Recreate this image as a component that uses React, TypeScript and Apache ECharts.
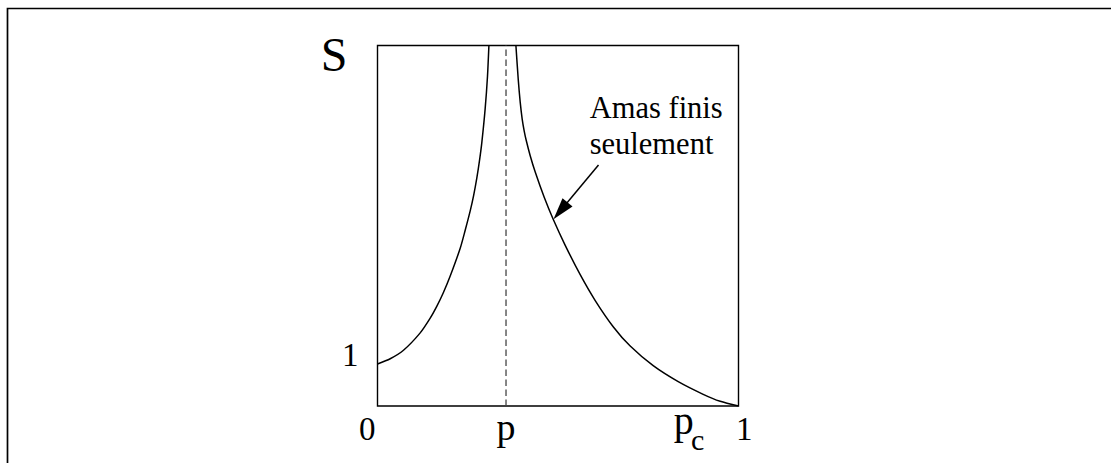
import React, { useEffect, useRef } from "react";
import * as echarts from "echarts";

// Curve S(p): branch below pc and branch above pc (finite clusters only)
const leftP = [0, 0.0352, 0.072, 0.1183, 0.146, 0.1645, 0.182, 0.2014, 0.2291, 0.2429, 0.2568, 0.2665, 0.2753, 0.2831, 0.2892, 0.2983, 0.3047, 0.3086];
const leftS = [1.0, 1.124, 1.326, 1.74, 2.09, 2.376, 2.688, 3.093, 3.755, 4.183, 4.643, 5.019, 5.433, 5.874, 6.286, 7.083, 7.85, 8.58];
const rightP = [0.3834, 0.3898, 0.3953, 0.4008, 0.4064, 0.4119, 0.423, 0.4369, 0.4618, 0.4867, 0.52, 0.5615, 0.6031, 0.6529, 0.7, 0.7637, 0.833, 0.9022, 0.9493, 1.0];
const rightS = [8.58, 7.781, 7.233, 6.829, 6.543, 6.324, 5.957, 5.569, 4.969, 4.445, 3.824, 3.126, 2.51, 1.888, 1.426, 0.959, 0.579, 0.278, 0.112, 0];

const pcValue = 0.356;
const yMax = 8.58;

const xTickValues = [0, pcValue, 1];
const xTickLabels = ["0", "p", "1"];
const yTickValues = [1];
const yTickLabels = ["1"];
const yAxisName = "S";
const pcLabelMain = "p";
const pcLabelSub = "c";
const pcLabelX = 0.848;

const annotationLines = ["Amas finis", "seulement"];
const annotationAt = [0.5878, 6.826];
const arrowFrom = [0.6122, 5.738];
const arrowTo = [0.4875, 4.445];

const FONT = "'Liberation Serif', 'Times New Roman', serif";
const ASC = 0.89;

function txt(text: string, x: number, baseline: number, fs: number, align: string) {
  return {
    type: "text",
    x,
    y: baseline - ASC * fs,
    style: { text, fontFamily: FONT, fontSize: fs, fill: "#000", align, verticalAlign: "top" },
  };
}

export default function App() {
  const ref = useRef<HTMLDivElement>(null);
  useEffect(() => {
    if (!ref.current) return;
    const chart = echarts.init(ref.current, null, { renderer: "svg" });
    const left = leftP.map((p, i) => [p, leftS[i]]);
    const right = rightP.map((p, i) => [p, rightS[i]]);
    const option: any = {
      animation: false,
      backgroundColor: "#fff",
      grid: {
        left: 377.5,
        right: 372.5,
        top: 45.5,
        bottom: 57,
        show: true,
        borderColor: "#000",
        borderWidth: 1.4,
        backgroundColor: "transparent",
      },
      xAxis: { type: "value", min: 0, max: 1, show: false },
      yAxis: { type: "value", min: 0, max: yMax, show: false },
      graphic: [
        {
          type: "rect",
          shape: { x: 7.5, y: 8.5, width: 1300, height: 700 },
          style: { fill: "none", stroke: "#000", lineWidth: 1.7 },
          silent: true,
        },
      ],
      series: [
        {
          type: "line",
          data: left,
          smooth: 0.25,
          showSymbol: false,
          clip: true,
          lineStyle: { color: "#000", width: 1.5 },
        },
        {
          type: "line",
          data: right,
          smooth: 0.25,
          showSymbol: false,
          clip: true,
          lineStyle: { color: "#000", width: 1.5 },
        },
        {
          type: "line",
          data: [
            [pcValue, 0],
            [pcValue, yMax],
          ],
          showSymbol: false,
          lineStyle: { color: "#444", width: 1.3, type: [6.5, 3.5] },
        },
        {
          type: "custom",
          data: [0],
          silent: true,
          renderItem: (params: any, api: any) => {
            const children: any[] = [];
            // x tick labels
            xTickValues.forEach((v, i) => {
              const c = api.coord([v, 0]);
              let align = "center";
              let dx = 0;
              if (i === 0) { align = "right"; dx = -2; }
              if (i === xTickValues.length - 1) { align = "left"; dx = -2.5; }
              const isLetter = /[a-z]/.test(xTickLabels[i]);
              children.push(txt(xTickLabels[i], c[0] + dx, c[1] + (isLetter ? 36 : 35.5), isLetter ? 38 : 33, align));
            });
            // pc label
            const pc = api.coord([pcLabelX, 0]);
            children.push(txt(pcLabelMain, pc[0], pc[1] + 30.5, 40, "center"));
            children.push(txt(pcLabelSub, pc[0] + 14, pc[1] + 45, 30, "center"));
            // y tick labels
            yTickValues.forEach((v, i) => {
              const c = api.coord([0, v]);
              children.push(txt(yTickLabels[i], c[0] - 19, c[1] + 4.3, 33, "right"));
            });
            // y axis name
            const top = api.coord([0, yMax]);
            children.push(txt(yAxisName, top[0] - 30, top[1] + 27.5, 48, "right"));
            // annotation
            const a = api.coord(annotationAt);
            annotationLines.forEach((t, i) => {
              children.push(txt(t, a[0], a[1] + i * 36.7, 30.5, "left"));
            });
            // arrow
            const f = api.coord(arrowFrom);
            const t = api.coord(arrowTo);
            const dxA = t[0] - f[0];
            const dyA = t[1] - f[1];
            const len = Math.sqrt(dxA * dxA + dyA * dyA);
            const ux = dxA / len;
            const uy = dyA / len;
            const headLen = 22;
            const headHalf = 6.5;
            const bx = t[0] - ux * headLen;
            const by = t[1] - uy * headLen;
            children.push({
              type: "line",
              shape: { x1: f[0], y1: f[1], x2: bx + ux * 2, y2: by + uy * 2 },
              style: { stroke: "#000", lineWidth: 1.5 },
            });
            children.push({
              type: "polygon",
              shape: {
                points: [
                  [t[0], t[1]],
                  [bx - uy * headHalf, by + ux * headHalf],
                  [bx + uy * headHalf, by - ux * headHalf],
                ],
              },
              style: { fill: "#000", stroke: "none" },
            });
            return { type: "group", children };
          },
        },
      ],
    };
    chart.setOption(option);
    return () => chart.dispose();
  }, []);
  return (
    <div
      ref={ref}
      style={{ position: "fixed", left: 0, top: 0, width: 1111, height: 463 }}
    />
  );
}
